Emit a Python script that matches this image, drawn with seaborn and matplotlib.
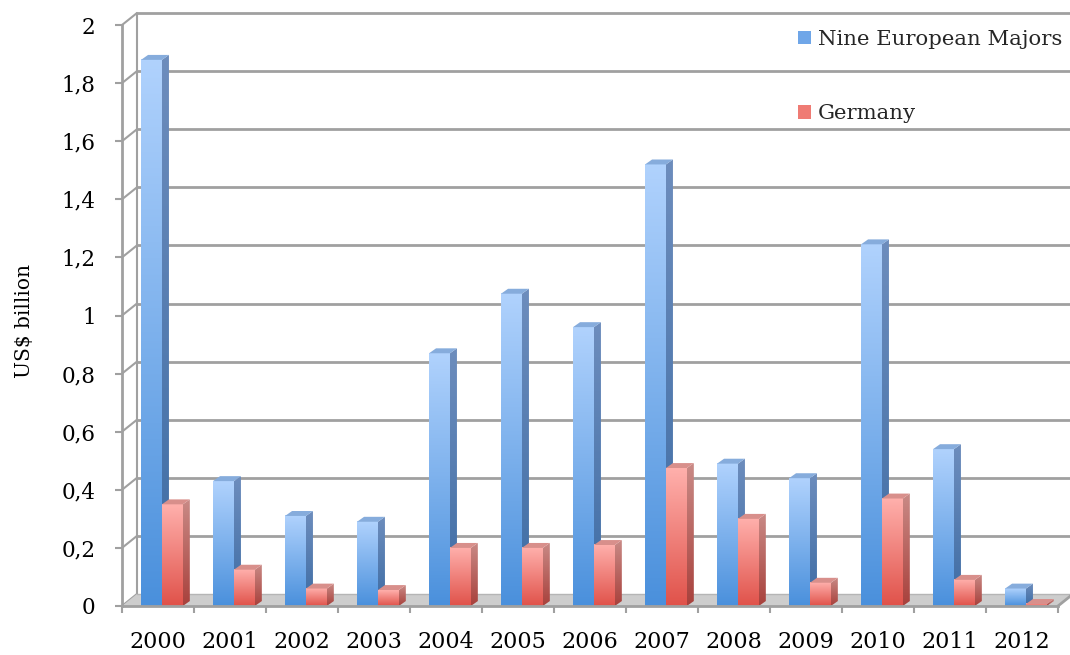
import numpy as np
import pandas as pd
import matplotlib
matplotlib.use("Agg")
import matplotlib.pyplot as plt
import matplotlib.colors as mcolors
from matplotlib.patches import Polygon, Patch
import seaborn as sns

# ---------------- data ----------------
years = [str(y) for y in range(2000, 2013)]
nine_majors = [1.88, 0.43, 0.31, 0.29, 0.87, 1.075, 0.96, 1.52, 0.49, 0.44, 1.245, 0.54, 0.06]
germany = [0.35, 0.125, 0.06, 0.055, 0.20, 0.20, 0.21, 0.475, 0.30, 0.08, 0.37, 0.09, 0.007]
series_names = ["Nine European Majors", "Germany"]
ytick_vals = [0, 0.2, 0.4, 0.6, 0.8, 1.0, 1.2, 1.4, 1.6, 1.8, 2.0]
ytick_labels = ["0", "0,2", "0,4", "0,6", "0,8", "1", "1,2", "1,4", "1,6", "1,8", "2"]
y_label = "US$ billion"

df = pd.DataFrame({
    "Year": years * 2,
    "Value": nine_majors + germany,
    "Series": [series_names[0]] * len(years) + [series_names[1]] * len(years),
})

# ---------------- style ----------------
sns.set_theme(style="white")
plt.rcParams["font.family"] = ["DejaVu Serif"]

blue_mid = "#6fa6e8"
red_mid = "#ef7b74"
front_grad = {0: ("#b0d2fd", "#4a90dc"), 1: ("#ffb0ac", "#e0524a")}
side_grad = {0: ("#6d8dbd", "#3d6ca4"), 1: ("#c98a86", "#a8413c")}
top_col = {0: "#86acdc", 1: "#d88f8b"}
grid_col = "#a0a0a0"

fig = plt.figure(figsize=(10.7, 6.55), dpi=100)
W, H = 1070, 655
ax = fig.add_axes([122 / W, 49 / H, 936 / W, 581 / H])

sns.barplot(data=df, x="Year", y="Value", hue="Series", hue_order=series_names,
            palette=[blue_mid, red_mid], width=0.58, saturation=1,
            errorbar=None, legend=False, ax=ax)

ax.set_xlim(-0.5, len(years) - 0.5)
ax.set_ylim(0, 2)

# depth offsets (data units)
wall_dx, wall_dy = 0.208, 0.0413
bar_dx, bar_dy = 0.097, 0.017
bar_shift = 0.055  # perspective shift of the bar groups


def grad_img(c_top, c_bot, n=128):
    a = np.array(mcolors.to_rgb(c_top))
    b = np.array(mcolors.to_rgb(c_bot))
    t = np.linspace(0, 1, n)[:, None]
    return (a * (1 - t) + b * t)[:, None, :]


# ----- back wall grid, floor, connectors -----
x_left = -0.5
x_right = len(years) - 0.5
for t in ytick_vals[1:]:
    ax.plot([x_left + wall_dx, x_right + 2], [t + wall_dy, t + wall_dy],
            color=grid_col, lw=2, zorder=1, clip_on=False, solid_capstyle="butt")
for t in ytick_vals:
    ax.plot([x_left, x_left + wall_dx], [t, t + wall_dy], color=grid_col, lw=1.5,
            zorder=1, clip_on=False)
ax.plot([x_left + wall_dx, x_left + wall_dx], [wall_dy, 2 + wall_dy], color=grid_col,
        lw=1.5, zorder=1, clip_on=False)

floor = Polygon([(x_left, 0), (x_right, 0), (x_right + wall_dx, wall_dy),
                 (x_left + wall_dx, wall_dy)], closed=True, facecolor="#cdcdcd",
                edgecolor="none", zorder=1.5, clip_on=False)
ax.add_patch(floor)
ax.plot([x_left + wall_dx, x_right + wall_dx], [wall_dy, wall_dy], color="#b5b5b5",
        lw=1, zorder=1.6, clip_on=False)
ax.plot([x_right, x_right + wall_dx], [0, wall_dy], color=grid_col, lw=2, zorder=1.6,
        clip_on=False)

# ----- 3D bars -----
n = len(years)
bars = list(ax.patches)[: 2 * n]
for i, p in enumerate(bars):
    s = i // n
    x0, y0 = p.get_x() + bar_shift, p.get_y()
    w, h = p.get_width(), p.get_height()
    z = 3 + s + (i % n) * 0.01
    p.set_visible(False)
    # front face gradient
    ax.imshow(grad_img(*front_grad[s]), extent=[x0, x0 + w, y0, y0 + h],
              aspect="auto", origin="upper", zorder=z, interpolation="bilinear")
    # side face
    side = Polygon([(x0 + w, y0), (x0 + w + bar_dx, y0 + bar_dy),
                    (x0 + w + bar_dx, y0 + h + bar_dy), (x0 + w, y0 + h)],
                   closed=True, facecolor="none", edgecolor="none", zorder=z)
    ax.add_patch(side)
    im = ax.imshow(grad_img(*side_grad[s]), extent=[x0 + w, x0 + w + bar_dx, y0, y0 + h + bar_dy],
                   aspect="auto", origin="upper", zorder=z, interpolation="bilinear")
    im.set_clip_path(side)
    # top face
    top = Polygon([(x0, y0 + h), (x0 + w, y0 + h), (x0 + w + bar_dx, y0 + h + bar_dy),
                   (x0 + bar_dx, y0 + h + bar_dy)], closed=True,
                  facecolor=top_col[s], edgecolor="none", zorder=z)
    ax.add_patch(top)

ax.set_xlim(-0.5, len(years) - 0.5)
ax.set_ylim(0, 2)

# ----- axes styling -----
for sp in ["top", "right"]:
    ax.spines[sp].set_visible(False)
for sp in ["left", "bottom"]:
    ax.spines[sp].set_color(grid_col)
    ax.spines[sp].set_linewidth(2)
    ax.spines[sp].set_zorder(6)

ax.set_yticks(ytick_vals)
ax.set_yticklabels(ytick_labels)
ax.tick_params(axis="y", which="major", left=True, length=5, width=1.5, color=grid_col,
               pad=14, labelsize=15.5, labelcolor="black")
ax.set_xticks(range(n))
ax.set_xticklabels(years)
ax.set_xticks(np.arange(n + 1) - 0.5, minor=True)
ax.tick_params(axis="x", which="major", bottom=False, length=0, pad=18, labelsize=16,
               labelcolor="black")
ax.tick_params(axis="x", which="minor", bottom=True, length=5, width=1.5, color=grid_col)
ax.set_xlabel("")
ax.set_ylabel(y_label, fontsize=14.5, color="black")
ax.yaxis.set_label_coords(-0.094, 0.49)
ax.grid(False)
ax.set_facecolor("none")

# ----- legend -----
handles = [Patch(facecolor=blue_mid, edgecolor="none"), Patch(facecolor=red_mid, edgecolor="none")]
ax.legend(handles, series_names, loc="upper left", bbox_to_anchor=(798 / W, 1 - 30 / H),
          bbox_transform=fig.transFigure, frameon=False, fontsize=15.3, labelspacing=2.6,
          handlelength=0.62, handleheight=0.62, handletextpad=0.3, borderpad=0,
          borderaxespad=0)

fig.savefig("out.png", dpi=100)
